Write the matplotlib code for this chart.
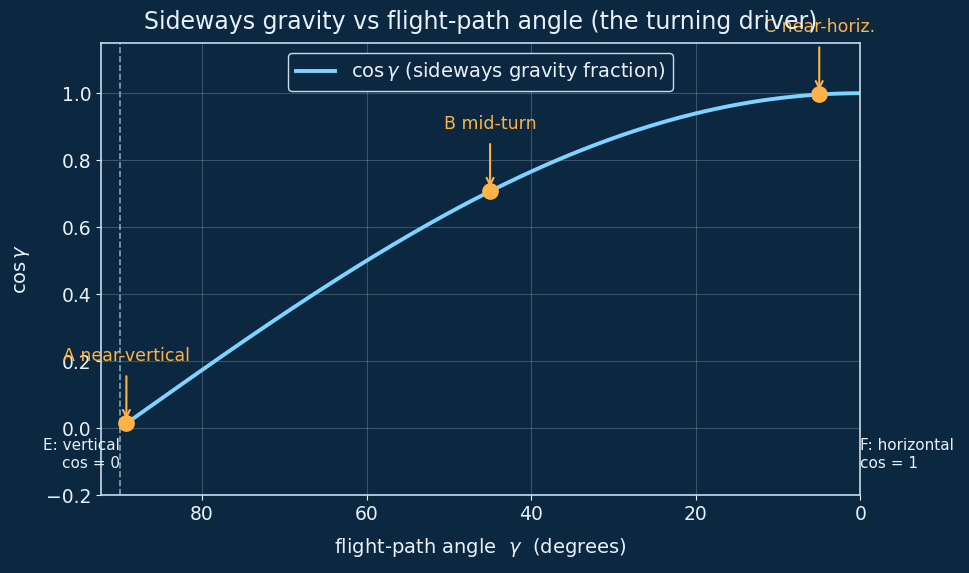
import numpy as np
import matplotlib
matplotlib.use("Agg")
import matplotlib.pyplot as plt

plt.rcParams["font.family"] = ["DejaVu Sans"]
plt.rcParams["mathtext.fontset"] = "dejavusans"

bg = "#0b2840"
fg = "#e8f1f8"
line_c = "#7fd3ff"
pt_c = "#ffb347"

gamma_deg = np.linspace(0, 89, 200)
cos_g = np.cos(np.radians(gamma_deg))

pt_names = ["A near-vertical", "B mid-turn", "C near-horiz."]
pt_gamma = [89.2, 45, 5]

fig = plt.figure(figsize=(9.7, 5.73), dpi=100, facecolor=bg)
ax = fig.add_axes([0.104, 0.136, 0.783, 0.789], facecolor=bg)

ax.plot(gamma_deg, cos_g, color=line_c, lw=2.8,
        label=r"$\cos\gamma$ (sideways gravity fraction)")
ax.axvline(90, color="#9fc3dc", ls="--", lw=1.2, alpha=0.8)

for name, g in zip(pt_names, pt_gamma):
    y = np.cos(np.radians(g))
    ax.plot(g, y, "o", color=pt_c, ms=11, zorder=5)
    ax.annotate(name, xy=(g, y), xytext=(0, 42), textcoords="offset points",
                ha="center", va="bottom", color=pt_c, fontsize=12.5,
                arrowprops=dict(arrowstyle="->", color=pt_c, lw=1.5,
                                shrinkA=6, shrinkB=3))

ax.text(90, -0.03, "E: vertical\ncos = 0", ha="right", va="top",
        color=fg, fontsize=11)
ax.text(0, -0.03, "F: horizontal\ncos = 1", ha="left", va="top",
        color=fg, fontsize=11)

ax.set_xlim(92.3, 0)
ax.set_ylim(-0.2, 1.15)
ax.set_xticks([80, 60, 40, 20, 0])
ax.grid(True, color="white", alpha=0.2, lw=0.8)

for s in ax.spines.values():
    s.set_color("#c8dcec")
    s.set_linewidth(1.2)
ax.tick_params(colors=fg, labelsize=13.5)
for lab in ax.get_xticklabels() + ax.get_yticklabels():
    lab.set_color(fg)

ax.set_xlabel(r"flight-path angle  $\gamma$  (degrees)", color=fg,
              fontsize=14, labelpad=9)
ax.set_ylabel(r"$\cos\gamma$", color=fg, fontsize=14, labelpad=10)
ax.set_title("Sideways gravity vs flight-path angle (the turning driver)",
             color=fg, fontsize=17, pad=10)

leg = ax.legend(loc="upper center", fontsize=14, facecolor=bg,
                edgecolor="#c8dcec", labelcolor=fg, framealpha=1)

fig.savefig("out.png", facecolor=bg)
